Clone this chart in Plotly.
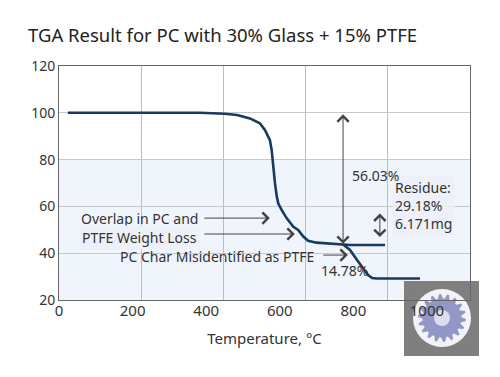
import numpy as np
import plotly.graph_objects as go

# ---- data ----
temp_main = [24, 60, 200, 383, 450, 484, 519, 546, 560, 573, 578, 582, 587, 592,
             596, 605, 619, 637, 650, 664, 677, 700, 755, 791, 886]
weight_main = [100, 100, 100, 100, 99.6, 99.1, 97.6, 95.5, 92.6, 88.4, 84.1, 76.9,
               69.8, 64.1, 61.2, 58.5, 54.9, 51.3, 49.9, 47.1, 45.3, 44.5, 43.9, 43.5, 43.5]
temp_branch = [772, 791, 810, 826, 840, 851, 864, 981]
weight_branch = [43.7, 41.4, 37.1, 33.7, 30.7, 29.4, 29.2, 29.2]

x_ticks = [0, 200, 400, 600, 800, 1000]
x_tick_labels = ["0", "200", "400", "600", "800", "1000"]
y_ticks = [20, 40, 60, 80, 100, 120]
y_tick_labels = ["20", "40", "60", "80", "100", "120"]

# annotation anchor values (data units)
plateau = 100
upper_level = 44
drop_temp = 772
residue_top, residue_bot, residue_temp = 57.6, 46.9, 872

X_MAX = 1117
W, H = 500, 377
OFF = 8  # browser body margin
PL, PR, PT, PB = 59, 470, 66, 300
L, T = PL - OFF, PT - OFF
R, B = W - (PR - OFF), H - (PB - OFF)
PW, PH = PR - PL, PB - PT

def px(xp):
    return (xp - PL) / PW

def py(yp):
    return (PB - yp) / PH

ink = "#333333"
arrow_c = "#444444"
curve_c = "#173a5e"
font = "Noto Sans"

fig = go.Figure()
fig.add_trace(go.Scatter(x=temp_main, y=weight_main, mode="lines", xaxis="x", yaxis="y",
                         line=dict(color=curve_c, width=2.6), hoverinfo="skip"))
fig.add_trace(go.Scatter(x=temp_branch, y=weight_branch, mode="lines", xaxis="x2", yaxis="y",
                         line=dict(color=curve_c, width=2.6), hoverinfo="skip"))

shapes = []
shapes.append(dict(type="rect", xref="paper", yref="paper", x0=0, x1=1, y0=0, y1=0.6,
                   fillcolor="#f0f5fb", line=dict(width=0), layer="below"))
# watermark logo
shapes.append(dict(type="rect", xref="paper", yref="paper", x0=px(404), x1=px(479),
                   y0=py(356), y1=py(281), fillcolor="#7f7f7f", line=dict(width=0), layer="below"))
cx, cy, rr = 442, 318, 29
shapes.append(dict(type="circle", xref="paper", yref="paper", x0=px(cx - rr), x1=px(cx + rr),
                   y0=py(cy + rr), y1=py(cy - rr), fillcolor="#f3f3f7", line=dict(width=0), layer="below"))
nt = 18
ang = np.linspace(0, 2 * np.pi, nt * 4, endpoint=False) + np.pi / (nt * 4)
rad = np.array([24, 24, 19.5, 19.5] * nt)
gx = cx + rad * np.cos(ang)
gy = cy + rad * np.sin(ang)
path = "M " + " L ".join(f"{px(a):.4f},{py(b):.4f}" for a, b in zip(gx, gy)) + " Z"
shapes.append(dict(type="path", xref="paper", yref="paper", path=path,
                   fillcolor="#9397c6", line=dict(width=0), layer="below"))
hr = 8
shapes.append(dict(type="circle", xref="paper", yref="paper", x0=px(cx - hr), x1=px(cx + hr),
                   y0=py(cy + hr), y1=py(cy - hr), fillcolor="#dcdcec", line=dict(width=0), layer="below"))

ann = []
def arrow(x, y, ax, ay, both=False):
    d = dict(x=x, y=y, ax=ax, ay=ay, xref="x", yref="y", axref="x", ayref="y",
             text="", showarrow=True, arrowcolor=arrow_c, arrowwidth=1,
             arrowhead=4, arrowsize=2.2)
    if both:
        d.update(arrowside="end+start", startarrowhead=4, startarrowsize=2.2)
    ann.append(d)

def label(x, y, text, xanchor="left", bg=None, size=14):
    d = dict(x=x, y=y, xref="x", yref="y", text=text, showarrow=False,
             xanchor=xanchor, yanchor="middle", align="left",
             font=dict(family=font, size=size, color=ink))
    if bg:
        d.update(bgcolor=bg, borderpad=2)
    ann.append(d)

arrow(drop_temp, upper_level, drop_temp, plateau, both=True)
arrow(residue_temp, residue_bot, residue_temp, residue_top, both=True)
arrow(573, 55, 391, 55)
arrow(641, 48.2, 391, 48.2)
arrow(785, 39.2, 714, 39.2)

ann.append(dict(x=905, y=60.6, xref="x", yref="y", text="Residue:<br>29.18%<br>6.171mg",
                showarrow=False, xanchor="left", yanchor="middle", align="left",
                bgcolor="rgba(236,238,247,0.85)", borderpad=2,
                font=dict(family=font, size=14, color=ink)))
label(54, 55.0, "Overlap in PC and")
label(54, 46.9, "PTFE Weight Loss", bg="#eef0f7")
label(160, 38.4, "PC Char Misidentified as PTFE")
label(777, 32.8, "14.78%", xanchor="center")
label(861, 73.4, "56.03%", xanchor="center")

fig.update_layout(
    width=W, height=H,
    margin=dict(l=L, r=R, t=T, b=B),
    paper_bgcolor="white", plot_bgcolor="white",
    showlegend=False,
    shapes=shapes, annotations=ann,
    title=dict(text="TGA Result for PC with 30% Glass + 15% PTFE",
               x=(28 - OFF) / W, xanchor="left", y=1 - (36 - OFF) / H, yanchor="middle",
               font=dict(family=font, size=18.5, color="#222222")),
    # primary x axis: carries the vertical grid lines
    xaxis=dict(range=[0, X_MAX], tickmode="linear", tick0=0, dtick=X_MAX / 5,
               showgrid=True, gridcolor="#bdbdbd", gridwidth=1,
               showticklabels=False, ticks="", zeroline=False,
               showline=True, mirror=True, linecolor="#666666", linewidth=1),
    # overlaid x axis with identical scale: carries the tick labels and title
    xaxis2=dict(range=[0, X_MAX], overlaying="x", anchor="y", side="bottom",
                tickmode="array", tickvals=x_ticks, ticktext=x_tick_labels,
                showgrid=False, zeroline=False, ticks="", showline=False,
                tickfont=dict(family=font, size=15, color=ink),
                title=dict(text="Temperature, °C", standoff=14,
                           font=dict(family=font, size=15, color=ink))),
    yaxis=dict(range=[20, 120], tickmode="array", tickvals=y_ticks, ticktext=y_tick_labels,
               showgrid=True, gridcolor="#c8c8c8", gridwidth=1, zeroline=False, ticks="",
               showline=True, mirror=True, linecolor="#666666", linewidth=1,
               tickfont=dict(family=font, size=14, color=ink)),
)

fig.write_html("out.html")
